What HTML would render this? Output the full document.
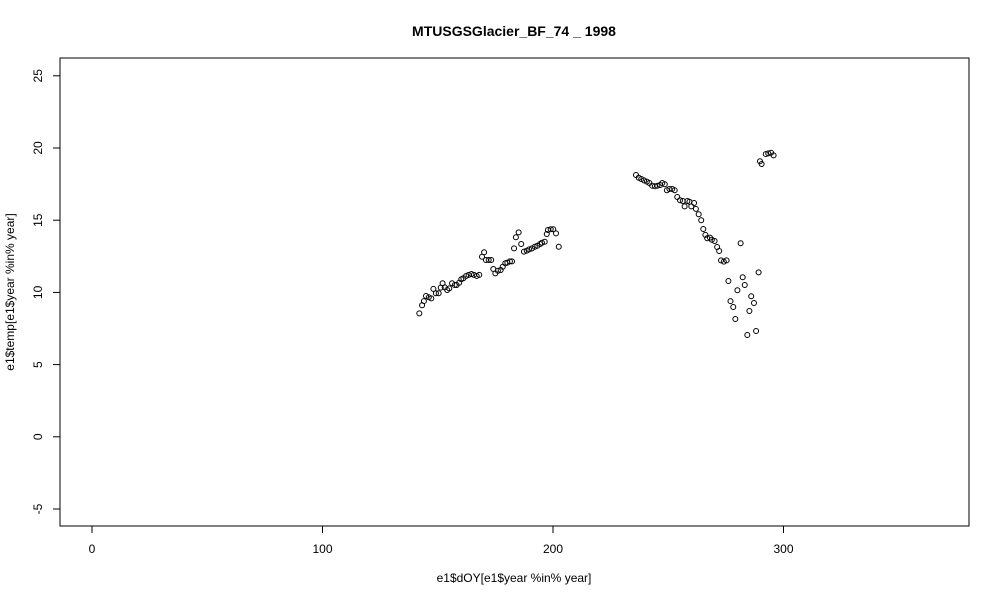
<!DOCTYPE html>
<html><head><meta charset="utf-8"><style>
body{margin:0;background:#fff}
svg text{font-family:"Liberation Sans",Arial,sans-serif;font-size:12px;fill:#000}
</style></head><body>
<svg id="chart" width="1000" height="600" viewBox="0 0 1000 600">
<rect width="1000" height="600" fill="#fff"/>
<text x="514" y="36" text-anchor="middle" style="font-weight:bold;font-size:14px">MTUSGSGlacier_BF_74 _ 1998</text>
<rect x="60" y="58" width="909" height="468" fill="none" stroke="#000"/>
<g id="xaxis"></g>
<g id="yaxis"></g>
<text x="514" y="582" text-anchor="middle">e1$dOY[e1$year %in% year]</text>
<text transform="translate(14,292) rotate(-90)" text-anchor="middle">e1$temp[e1$year %in% year]</text>
<g id="points"></g>
</svg>
<script>
const xTicks=[0,100,200,300];
const yTicks=[-5,0,5,10,15,20,25];
const dOY=[142.0,143.2,144.0,144.9,146.1,147.2,148.1,149.2,150.4,151.3,152.1,153.0,154.1,155.0,156.2,157.4,158.2,159.3,160.2,161.1,162.3,163.4,164.6,165.7,166.9,168.0,169.2,170.1,170.9,172.1,173.2,174.1,175.0,176.1,177.3,178.2,179.3,180.2,181.3,182.2,183.1,183.9,185.1,186.2,187.4,188.6,189.7,190.9,192.1,193.2,194.4,195.2,196.4,197.3,197.8,199.0,200.1,201.3,202.5,
236.0,237.2,238.3,239.5,240.7,241.8,243.0,244.2,245.3,246.5,247.4,248.5,249.4,250.5,251.7,252.8,253.9,255.1,256.3,257.1,258.3,259.2,260.0,261.2,262.0,263.2,264.3,265.2,266.1,266.9,268.1,268.9,270.1,271.2,272.1,272.9,274.1,275.3,276.1,277.0,278.2,279.1,280.0,281.4,282.3,283.2,284.3,285.2,286.0,287.2,288.1,289.2,289.8,290.5,292.3,293.4,294.6,295.7];
const temp=[8.55,9.11,9.40,9.75,9.66,9.59,10.24,9.94,9.94,10.33,10.63,10.35,10.17,10.28,10.63,10.51,10.51,10.67,10.91,10.98,11.14,11.21,11.27,11.21,11.14,11.21,12.47,12.78,12.24,12.24,12.24,11.62,11.32,11.50,11.55,11.78,12.02,12.06,12.15,12.15,13.05,13.82,14.16,13.35,12.82,12.89,12.98,13.05,13.16,13.23,13.35,13.44,13.51,14.04,14.32,14.37,14.37,14.09,13.16,
18.13,17.94,17.85,17.76,17.67,17.58,17.39,17.35,17.39,17.44,17.58,17.49,17.07,17.16,17.16,17.07,16.61,16.38,16.33,15.96,16.33,16.28,15.96,16.19,15.78,15.41,15.00,14.39,13.98,13.75,13.79,13.65,13.56,13.14,12.87,12.22,12.13,12.22,10.79,9.40,8.99,8.16,10.15,13.40,11.05,10.51,7.05,8.71,9.73,9.27,7.33,11.39,19.08,18.89,19.58,19.63,19.67,19.49];
const NS='http://www.w3.org/2000/svg';
const sx=v=>92+v*2.305;
const sy=v=>148-(v-20)*14.44;
function mk(t,a,p){const e=document.createElementNS(NS,t);for(const k in a)e.setAttribute(k,a[k]);p.appendChild(e);return e;}
const xa=document.getElementById('xaxis'),ya=document.getElementById('yaxis'),pg=document.getElementById('points');
mk('line',{x1:sx(0),x2:sx(300),y1:526,y2:526,stroke:'#000'},xa);
xTicks.forEach(t=>{
 const l=mk('line',{x1:sx(t),x2:sx(t),y1:526,y2:533,stroke:'#000'},xa);
 
 
 const tx=mk('text',{x:sx(t),y:553,'text-anchor':'middle'},xa);tx.textContent=t;
 
 
});
mk('line',{x1:60,x2:60,y1:sy(-5),y2:sy(25),stroke:'#000'},ya);
yTicks.forEach(t=>{
 const l=mk('line',{x1:53,x2:60,y1:sy(t),y2:sy(t),stroke:'#000'},ya);
 
 
 const tx=mk('text',{transform:`translate(42,${sy(t)}) rotate(-90)`,'text-anchor':'middle'},ya);tx.textContent=t;
 
 
});
dOY.forEach((d,i)=>{
 const c=mk('circle',{cx:sx(d),cy:sy(temp[i]),r:2.5,fill:'none',stroke:'#000','stroke-width':1},pg);
 
 
});
</script>
</body></html>
